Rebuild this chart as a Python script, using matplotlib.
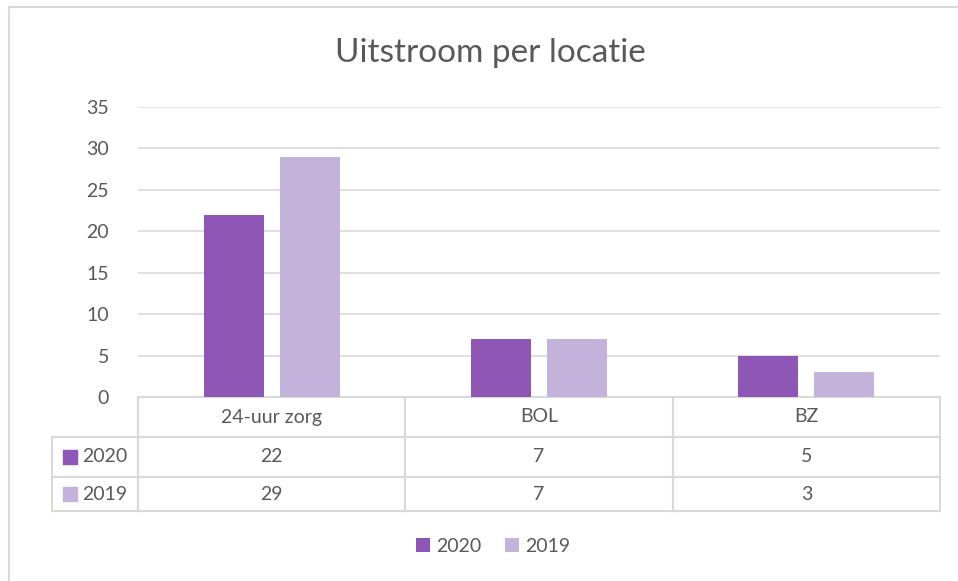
import matplotlib.pyplot as plt
from matplotlib.lines import Line2D
import numpy as np

plt.rcParams['font.family'] = ['Lato', 'DejaVu Sans']

categories = ['24-uur zorg', 'BOL', 'BZ']
series_names = ['2020', '2019']
values_2020 = [22, 7, 5]
values_2019 = [29, 7, 3]
yticks = [0, 5, 10, 15, 20, 25, 30, 35]

colors = ['#8E56B5', '#C3B3DA']
grid_c = '#D9D9D9'
text_c = '#595959'

W, H = 958, 581
fig = plt.figure(figsize=(W / 100, H / 100), dpi=100)

# plot area in pixels: x 138..940, y 107..397
ax = fig.add_axes([138 / W, 1 - 397 / H, (940 - 138) / W, (397 - 107) / H])

x = np.arange(len(categories))
bw = 0.225
off = 0.142
for vals, name, c, dx in zip([values_2020, values_2019], series_names, colors, [-off, off]):
    ax.bar(x + dx, vals, bw, color=c, label=name, zorder=3)

ax.set_xlim(-0.5, len(categories) - 0.5)
ax.set_ylim(0, 35)
ax.set_yticks(yticks)
ax.set_yticklabels([str(t) for t in yticks], fontsize=14, color=text_c)
ax.tick_params(axis='y', length=0, pad=21)
ax.set_xticks([])
ax.yaxis.grid(True, color=grid_c, linewidth=1.2, zorder=0)
for s in ax.spines.values():
    s.set_visible(False)

# data table below the plot
tr = ax.get_xaxis_transform()
ph = 397 - 107
def yax(py):
    return (397 - py) / ph

x_left = (52 - 138) / ((940 - 138) / 3) - 0.5
rows = [397, 437, 477, 511]
lkw = dict(color=grid_c, linewidth=1.5, transform=tr, clip_on=False)
ax.add_line(Line2D([-0.5, 2.5], [yax(397)] * 2, **lkw))
for py in rows[1:]:
    ax.add_line(Line2D([x_left, 2.5], [yax(py)] * 2, **lkw))
for cx in [-0.5, 0.5, 1.5, 2.5]:
    ax.add_line(Line2D([cx, cx], [yax(397), yax(511)], **lkw))
ax.add_line(Line2D([x_left, x_left], [yax(437), yax(511)], **lkw))

for i, cat in enumerate(categories):
    ax.text(i, yax(417), cat, transform=tr, ha='center', va='center',
            fontsize=14, color=text_c)
for r, (name, vals, c) in enumerate(zip(series_names, [values_2020, values_2019], colors)):
    ymid = yax((rows[r + 1] + rows[r + 2]) / 2)
    ax.scatter([x_left + 0.068], [ymid], marker='s', s=95, color=c,
               transform=tr, clip_on=False)
    ax.text(x_left + 0.112, ymid, name, transform=tr, ha='left', va='center',
            fontsize=14, color=text_c)
    for i, v in enumerate(vals):
        ax.text(i, ymid, str(v), transform=tr, ha='center', va='center',
                fontsize=14, color=text_c)

fig.suptitle('Uitstroom per locatie', x=490 / W, y=1 - 53 / H, va='center',
             fontsize=24, color=text_c)

leg = fig.legend(loc='center', bbox_to_anchor=(493 / W, 1 - 546 / H), ncol=2,
                 frameon=False, fontsize=14, handlelength=0.75, handleheight=0.75,
                 handletextpad=0.3, columnspacing=1.2, labelcolor=text_c)

# chart border (top and left only visible)
fig.add_artist(Line2D([9 / W, 1], [1 - 7 / H] * 2, color=grid_c, linewidth=1.5))
fig.add_artist(Line2D([9 / W] * 2, [0, 1 - 7 / H], color=grid_c, linewidth=1.5))

fig.savefig('out.png', dpi=100)
